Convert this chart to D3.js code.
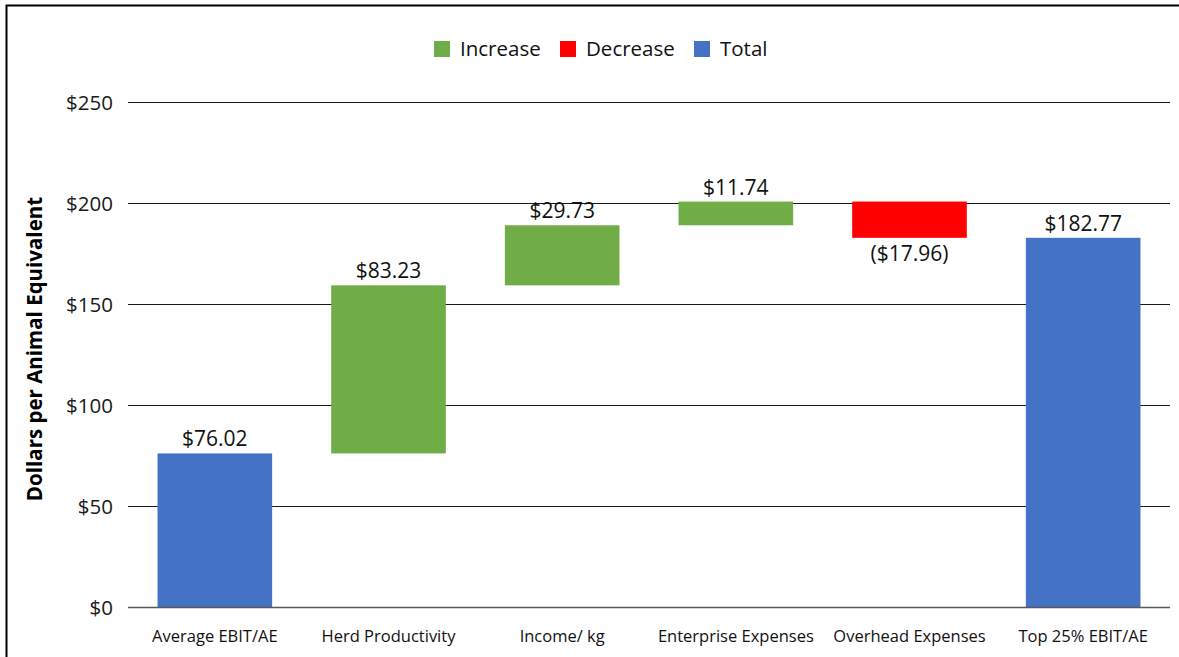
<!DOCTYPE html>
<html>
<head>
<meta charset="utf-8">
<script src="https://cdn.jsdelivr.net/npm/d3@7"></script>
<style>
  html, body { margin: 0; padding: 0; background: #fff; }
  svg { display: block; font-family: "Open Sans", "Noto Sans", sans-serif; }
</style>
</head>
<body>
<svg id="chart" width="1179" height="657"></svg>
<script>
// Waterfall: average EBIT per animal equivalent bridged to top-25% EBIT
const categories = ["Average EBIT/AE", "Herd Productivity", "Income/ kg",
                    "Enterprise Expenses", "Overhead Expenses", "Top 25% EBIT/AE"];
const stepValues = [76.02, 83.23, 29.73, 11.74, -17.96, 182.77];
const stepKinds  = ["total", "increase", "increase", "increase", "decrease", "total"];
const valueLabels = ["$76.02", "$83.23", "$29.73", "$11.74", "($17.96)", "$182.77"];
const yTicks = [0, 50, 100, 150, 200, 250];
const legendItems = ["Increase", "Decrease", "Total"];

const colors = { increase: "#70AD47", decrease: "#FF0000", total: "#4472C4" };

const svg = d3.select("#chart");
const margin = { left: 128, right: 9, top: 102, bottom: 50 };
const W = 1179, H = 657;

// Outer frame
svg.append("rect")
  .attr("x", 6.5).attr("y", 5.5)
  .attr("width", W + 20).attr("height", H + 20)
  .attr("fill", "none").attr("stroke", "#000").attr("stroke-width", 2);

const x = d3.scaleBand()
  .domain(categories)
  .range([margin.left, W - margin.right])
  .paddingInner(0.34)
  .paddingOuter(0.17);

const y = d3.scaleLinear().domain([0, 250]).range([607, 102]);

// Running totals for the floating bars
let running = 0;
const bars = categories.map((c, i) => {
  const v = stepValues[i];
  let lo, hi;
  if (stepKinds[i] === "total") { lo = 0; hi = v; running = v; }
  else { const start = running; running += v; lo = Math.min(start, running); hi = Math.max(start, running); }
  return { cat: c, kind: stepKinds[i], lo, hi, label: valueLabels[i] };
});

// Grid lines
const yAxis = d3.axisLeft(y).tickValues(yTicks)
  .tickSize(-(W - margin.right - margin.left))
  .tickFormat(d => "$" + d);
const gy = svg.append("g").attr("transform", `translate(${margin.left},0)`).call(yAxis);
gy.select(".domain").remove();
gy.selectAll(".tick line").attr("stroke", "#1a1a1a").attr("stroke-width", 1.2);
gy.selectAll(".tick text")
  .attr("x", -15).attr("dy", "0.35em")
  .attr("font-size", 20.5).attr("fill", "#1a1a1a")
  .attr("font-family", "'Open Sans', sans-serif");

// Bars
svg.append("g").selectAll("rect").data(bars).join("rect")
  .attr("x", d => x(d.cat))
  .attr("width", x.bandwidth())
  .attr("y", d => y(d.hi))
  .attr("height", d => y(d.lo) - y(d.hi))
  .attr("fill", d => colors[d.kind]);

// Baseline
svg.append("line")
  .attr("x1", margin.left).attr("x2", W - margin.right)
  .attr("y1", y(0) + 0.5).attr("y2", y(0) + 0.5)
  .attr("stroke", "#595959").attr("stroke-width", 1.5);

// Value labels
svg.append("g").selectAll("text").data(bars).join("text")
  .attr("x", d => x(d.cat) + x.bandwidth() / 2)
  .attr("y", d => d.kind === "decrease" ? y(d.lo) + 23 : y(d.hi) - 7)
  .attr("text-anchor", "middle")
  .attr("font-size", 21).attr("fill", "#111")
  .text(d => d.label);

// Category labels
const xAxis = d3.axisBottom(x).tickSize(0).tickPadding(0);
const gx = svg.append("g").attr("transform", `translate(0,${y(0)})`).call(xAxis);
gx.select(".domain").remove();
gx.selectAll(".tick text")
  .attr("y", 35).attr("dy", 0)
  .attr("font-size", 16.5).attr("fill", "#111")
  .attr("font-family", "'Open Sans', sans-serif");

// Y axis title
svg.append("text")
  .attr("transform", "translate(42,349) rotate(-90)")
  .attr("text-anchor", "middle")
  .attr("font-size", 20.5).attr("font-weight", "bold").attr("fill", "#000")
  .text("Dollars per Animal Equivalent");

// Legend
const legendX = [434, 560, 694];
const legendKinds = ["increase", "decrease", "total"];
const lg = svg.append("g").selectAll("g").data(legendItems).join("g")
  .attr("transform", (d, i) => `translate(${legendX[i]},41)`);
lg.append("rect").attr("width", 16).attr("height", 16)
  .attr("fill", (d, i) => colors[legendKinds[i]]);
lg.append("text").attr("x", 26).attr("y", 8).attr("dy", "0.35em")
  .attr("font-size", 20.5).attr("fill", "#111")
  .text(d => d);
</script>
</body>
</html>
